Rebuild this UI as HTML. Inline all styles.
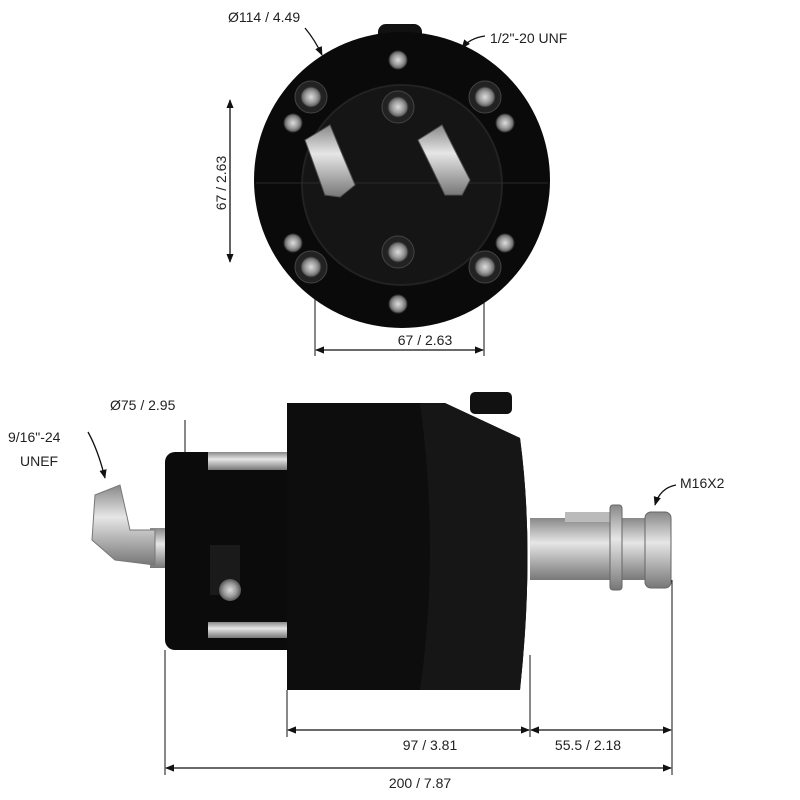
<!DOCTYPE html>
<html><head><meta charset="utf-8"><style>
html,body{margin:0;padding:0;background:#fff;}
svg{display:block;font-family:"Liberation Sans",sans-serif;}
</style></head><body>
<svg width="800" height="800" viewBox="0 0 800 800" xmlns="http://www.w3.org/2000/svg">
<defs>
<marker id="a" viewBox="0 0 10 10" refX="9" refY="5" markerWidth="7" markerHeight="7" orient="auto-start-reverse"><path d="M0,1 L10,5 L0,9 z" fill="#111"/></marker>
<linearGradient id="sh" x1="0" y1="0" x2="0" y2="1"><stop offset="0" stop-color="#888"/><stop offset="0.4" stop-color="#e6e6e6"/><stop offset="1" stop-color="#777"/></linearGradient>
<radialGradient id="bolt"><stop offset="0" stop-color="#ddd"/><stop offset="0.6" stop-color="#999"/><stop offset="1" stop-color="#555"/></radialGradient>
</defs>
<!-- TOP VIEW -->
<rect x="378" y="24" width="44" height="30" rx="8" fill="#111"/>
<circle cx="402" cy="180" r="148" fill="#0a0a0a"/>
<circle cx="402" cy="185" r="100" fill="#151515" stroke="#222" stroke-width="2"/>
<line x1="256" y1="183" x2="548" y2="183" stroke="#2a2a2a" stroke-width="1"/>
<g fill="#222" stroke="#444">
<circle cx="311" cy="97" r="16"/><circle cx="485" cy="97" r="16"/>
<circle cx="311" cy="267" r="16"/><circle cx="485" cy="267" r="16"/>
<circle cx="398" cy="107" r="16"/><circle cx="398" cy="252" r="16"/>
</g>
<g fill="url(#bolt)" stroke="#333">
<circle cx="311" cy="97" r="10"/><circle cx="485" cy="97" r="10"/>
<circle cx="311" cy="267" r="10"/><circle cx="485" cy="267" r="10"/>
<circle cx="398" cy="107" r="10"/><circle cx="398" cy="252" r="10"/>
<circle cx="293" cy="123" r="9"/><circle cx="505" cy="123" r="9"/>
<circle cx="293" cy="243" r="9"/><circle cx="505" cy="243" r="9"/>
<circle cx="398" cy="60" r="9"/><circle cx="398" cy="304" r="9"/>
</g>
<g fill="url(#sh)" stroke="#555">
<path d="M305,140 L330,125 L355,185 L340,197 L325,195 Z"/>
<path d="M418,140 L442,125 L470,180 L462,195 L445,195 Z"/>
</g>
<!-- top dims -->
<line x1="230" y1="100" x2="230" y2="262" stroke="#111" stroke-width="1.3" marker-start="url(#a)" marker-end="url(#a)"/>
<text x="0" y="0" transform="translate(226,183) rotate(-90)" font-size="14" text-anchor="middle" fill="#222">67 / 2.63</text>
<line x1="315" y1="298" x2="315" y2="356" stroke="#111" stroke-width="1"/>
<line x1="484" y1="298" x2="484" y2="356" stroke="#111" stroke-width="1"/>
<line x1="316" y1="350" x2="483" y2="350" stroke="#111" stroke-width="1.3" marker-start="url(#a)" marker-end="url(#a)"/>
<text x="425" y="345" font-size="14" text-anchor="middle" fill="#222">67 / 2.63</text>
<text x="228" y="22" font-size="14" fill="#222">Ø114 / 4.49</text>
<path d="M305,28 Q315,40 322,55" fill="none" stroke="#111" stroke-width="1.3" marker-end="url(#a)"/>
<text x="490" y="43" font-size="14" fill="#222">1/2"-20 UNF</text>
<path d="M485,36 Q470,38 462,48" fill="none" stroke="#111" stroke-width="1.3" marker-end="url(#a)"/>
<!-- SIDE VIEW -->
<rect x="530" y="518" width="120" height="62" fill="url(#sh)"/>
<rect x="565" y="512" width="45" height="10" fill="#bbb"/>
<rect x="610" y="505" width="12" height="85" rx="3" fill="url(#sh)" stroke="#666"/>
<rect x="645" y="512" width="26" height="76" rx="6" fill="url(#sh)" stroke="#666"/>
<rect x="150" y="528" width="30" height="40" fill="url(#sh)"/>
<path d="M95,495 L120,485 L130,530 L155,530 L155,565 L115,560 L92,540 Z" fill="url(#sh)" stroke="#777"/>
<rect x="165" y="452" width="135" height="198" rx="10" fill="#0b0b0b"/>
<rect x="210" y="545" width="30" height="50" fill="#1a1a1a"/>
<rect x="208" y="452" width="80" height="18" fill="url(#sh)"/>
<rect x="208" y="622" width="80" height="16" fill="url(#sh)"/>
<circle cx="230" cy="590" r="11" fill="url(#bolt)"/>
<rect x="470" y="392" width="42" height="22" rx="5" fill="#111"/>
<path d="M287,403 L445,403 L520,438 Q535,550 520,690 L287,690 Z" fill="#0d0d0d"/>
<path d="M420,403 L445,403 L520,438 Q535,550 520,690 L420,690 Q440,550 420,403Z" fill="#161616"/>
<!-- side dims -->
<g stroke="#111" stroke-width="1">
<line x1="165" y1="650" x2="165" y2="775"/>
<line x1="287" y1="690" x2="287" y2="737"/>
<line x1="530" y1="655" x2="530" y2="737"/>
<line x1="672" y1="580" x2="672" y2="775"/>
<line x1="185" y1="420" x2="185" y2="455"/>
</g>
<g stroke="#111" stroke-width="1.3" fill="none">
<line x1="288" y1="730" x2="529" y2="730" marker-start="url(#a)" marker-end="url(#a)"/>
<line x1="531" y1="730" x2="671" y2="730" marker-start="url(#a)" marker-end="url(#a)"/>
<line x1="166" y1="768" x2="671" y2="768" marker-start="url(#a)" marker-end="url(#a)"/>
<path d="M88,432 Q98,450 105,478" marker-end="url(#a)"/>
<path d="M676,485 Q660,488 655,505" marker-end="url(#a)"/>
</g>
<g font-size="14" fill="#222">
<text x="430" y="750" text-anchor="middle">97 / 3.81</text>
<text x="588" y="750" text-anchor="middle">55.5 / 2.18</text>
<text x="420" y="788" text-anchor="middle">200 / 7.87</text>
<text x="110" y="410">Ø75 / 2.95</text>
<text x="8" y="442">9/16"-24</text>
<text x="20" y="466">UNEF</text>
<text x="680" y="488">M16X2</text>
</g>
</svg>
</body></html>
